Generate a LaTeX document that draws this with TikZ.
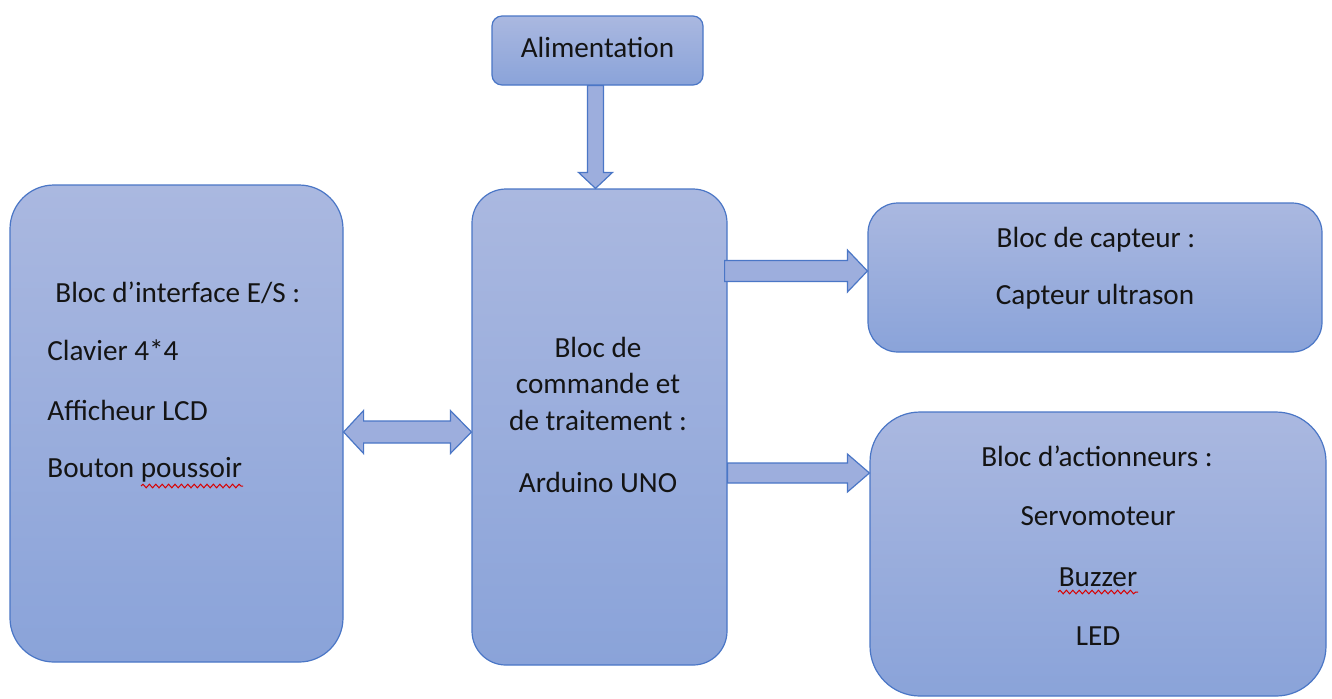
\documentclass[tikz,border=0pt]{standalone}
\usepackage{fontspec}
\setmainfont{Carlito}
\usetikzlibrary{calc,decorations.pathmorphing}
\definecolor{edge}{HTML}{4A76C6}
\definecolor{topc}{HTML}{AAB8E0}
\definecolor{botc}{HTML}{8AA3D9}
\definecolor{arrc}{HTML}{9DAEDD}
\tikzset{
  box/.style={draw=edge, line width=0.6pt, top color=topc, bottom color=botc, inner sep=0pt},
  blockarrow/.style={draw=edge, line width=0.6pt, fill=arrc, line join=miter},
  txt/.style={font=\fontsize{14.6}{17}\selectfont, text=black!92, inner sep=0pt},
  squiggle/.style={draw=red!85!black, line width=0.5pt, decorate, decoration={snake, segment length=3.2, amplitude=0.9}}
}
\begin{document}
\begin{tikzpicture}[x=0.5pt,y=-0.5pt]
\path[use as bounding box, fill=white] (0,0) rectangle (1332,698);
% boxes
\node[box, rounded corners=5pt, minimum width=105.5pt, minimum height=34.5pt] (alim) at (597.5,50.5) {};
\node[box, rounded corners=22pt, minimum width=166.5pt, minimum height=238.5pt] (io) at (176.5,423.5) {};
\node[box, rounded corners=17pt, minimum width=127.5pt, minimum height=238pt] (cmd) at (599.5,427) {};
\node[box, rounded corners=15pt, minimum width=227pt, minimum height=74.5pt] (cap) at (1095,277.5) {};
\node[box, rounded corners=25pt, minimum width=228pt, minimum height=142pt] (act) at (1098,554) {};
% texts
\node[txt] (t0) at (597.5,47) {Alimentation};
\node[txt, anchor=west] (t1) at (55,293) {Bloc d’interface E/S :};
\node[txt, anchor=west] (t2) at (47,350) {Clavier 4*4};
\node[txt, anchor=west] (t3) at (47,410) {Afficheur LCD};
\node[txt, anchor=west] (t4) at (47,470) {Bouton poussoir};
\node[txt] (t5) at (598,347) {Bloc de};
\node[txt] (t6) at (598,383) {commande et};
\node[txt] (t7) at (598,420) {de traitement :};
\node[txt] (t8) at (598,482) {Arduino UNO};
\node[txt] (t9) at (1096,240) {Bloc de capteur :};
\node[txt] (t10) at (1095,297) {Capteur ultrason};
\node[txt] (t11) at (1097,456) {Bloc d’actionneurs :};
\node[txt] (t12) at (1098,516) {Servomoteur};
\node[txt] (t13) at (1098,577) {Buzzer};
\node[txt] (t14) at (1098,636) {LED};
% spellcheck underlines
\draw[squiggle] (141,486) -- (243,486);
\draw[squiggle] (1058,592) -- (1138,592);
% down arrow
\coordinate (a0) at ($(alim.south)+(-2,0)$);
\coordinate (a1) at (a0 |- cmd.north);
\draw[blockarrow] ($(a0)+(-8,0)$) -- ($(a1)+(-8,-16)$) -- ($(a1)+(-17,-16)$) -- (a1)
  -- ($(a1)+(17,-16)$) -- ($(a1)+(8,-16)$) -- ($(a0)+(8,0)$) -- cycle;
% double arrow
\coordinate (d0) at ($(io.east)+(0,8.5)$);
\coordinate (d1) at (d0 -| cmd.west);
\draw[blockarrow] (d0) -- ($(d0)+(20,-21.5)$) -- ($(d0)+(20,-11)$) -- ($(d1)+(-21,-11)$)
  -- ($(d1)+(-21,-21.5)$) -- (d1) -- ($(d1)+(-21,21.5)$) -- ($(d1)+(-21,11)$)
  -- ($(d0)+(20,11)$) -- ($(d0)+(20,21.5)$) -- cycle;
% arrow to capteur
\coordinate (c0) at ($(cmd.east)+(-3,-156)$);
\coordinate (c1) at (c0 -| cap.west);
\draw[blockarrow] ($(c0)+(0,-10.5)$) -- ($(c1)+(-20,-10.5)$) -- ($(c1)+(-20,-21)$) -- (c1)
  -- ($(c1)+(-20,21)$) -- ($(c1)+(-20,10.5)$) -- ($(c0)+(0,10.5)$) -- cycle;
% arrow to actionneurs
\coordinate (e0) at ($(cmd.east)+(0,46)$);
\coordinate (e1) at (e0 -| act.west);
\draw[blockarrow] ($(e0)+(0,-10)$) -- ($(e1)+(-22,-10)$) -- ($(e1)+(-22,-19)$) -- (e1)
  -- ($(e1)+(-22,19)$) -- ($(e1)+(-22,10)$) -- ($(e0)+(0,10)$) -- cycle;
\end{tikzpicture}
\end{document}
